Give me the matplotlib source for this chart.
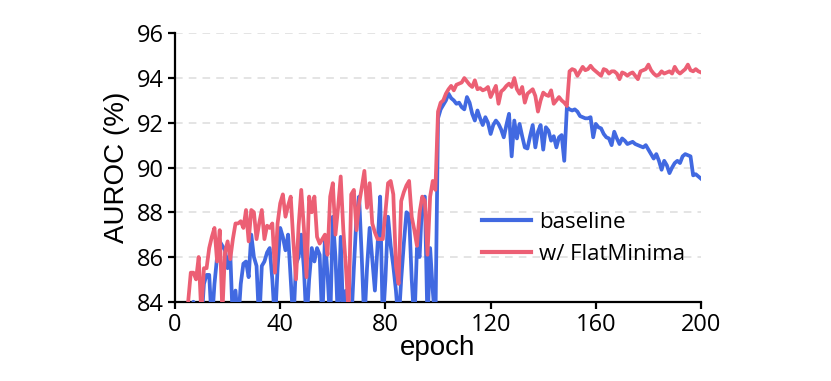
"""
AUROC vs epoch, baseline vs flat minima
"""

import numpy as np
import matplotlib
matplotlib.use('Agg')
import matplotlib.pyplot as plt


# epochs 5..200
epochs = np.arange(5, 201)

# baseline AUROC (%), values under 84 are cut off by the axis
baseline = [
    83.0, 83.0, 84.0, 83.0, 83.0, 83.0, 84.8, 85.2, 85.2, 83.0,   # 5-14
    84.8, 86.0, 86.7, 86.5, 86.3, 85.5, 86.2, 83.0, 84.5, 83.0,   # 15-24
    84.8, 85.7, 85.8, 85.1, 87.0, 86.0, 85.6, 83.0, 85.6, 85.8,   # 25-34
    86.2, 86.4, 85.0, 83.0, 85.5, 87.3, 86.9, 86.3, 87.0, 85.0,   # 35-44
    83.0, 85.7, 86.0, 87.0, 85.5, 83.0, 85.0, 86.4, 85.8, 86.4,   # 45-54
    86.1, 83.0, 86.9, 85.2, 83.0, 87.8, 86.0, 83.0, 86.9, 83.0,   # 55-64
    84.5, 83.0, 83.0, 85.5, 87.8, 88.7, 86.0, 83.0, 85.5, 87.3,   # 65-74
    85.9, 84.5, 86.5, 88.7, 83.0, 85.0, 87.8, 86.5, 85.6, 84.5,   # 75-84
    83.0, 85.0, 86.6, 88.0, 87.9, 85.0, 83.0, 86.4, 86.0, 88.6,   # 85-94
    88.7, 83.0, 86.4, 84.5, 83.0,                                 # 95-99
    92.2, 92.6, 92.8, 93.0, 93.3, 93.1, 93.0, 92.85, 92.9, 92.7,  # 100-109
    92.6, 93.15, 92.9, 92.4, 92.1, 92.55, 92.2, 91.9, 92.25, 92.0,  # 110-119
    91.5, 91.9, 92.1, 91.95, 91.7, 91.35, 91.9, 92.4, 90.5, 92.1,   # 120-129
    91.3, 91.95, 91.4, 90.9, 90.85, 91.4, 91.9, 90.9, 91.6, 91.9,   # 130-139
    90.8, 91.8, 91.65, 91.2, 91.4, 90.9, 91.35, 91.45, 90.3, 92.7,  # 140-149
    92.6, 92.55, 92.6, 92.5, 92.3, 92.25, 92.2, 92.2, 92.25, 91.35, # 150-159
    91.95, 91.8, 91.75, 91.5, 91.35, 91.3, 91.0, 91.6, 91.3, 91.05, # 160-169
    91.3, 91.2, 91.05, 91.1, 91.15, 91.05, 91.0, 90.95, 90.9, 91.0, # 170-179
    90.8, 90.6, 90.4, 90.6, 90.3, 89.9, 90.3, 90.1, 89.75, 90.0,    # 180-189
    90.2, 90.3, 90.2, 90.5, 90.6, 90.55, 90.5, 89.65, 89.7, 89.6,   # 190-199
    89.5,                                                           # 200
]

# w/ FlatMinima AUROC (%)
flatminima = [
    84.0, 85.3, 85.3, 85.0, 86.0, 83.5, 85.5, 85.5, 86.4, 86.9,   # 5-14
    87.3, 85.8, 87.2, 83.5, 86.2, 86.7, 85.9, 86.8, 87.5, 87.5,   # 15-24
    87.6, 87.3, 88.1, 86.7, 88.1, 88.0, 86.8, 87.5, 88.1, 86.8,   # 25-34
    87.4, 87.3, 87.5, 85.3, 87.5, 88.4, 88.8, 87.8, 88.3, 88.7,   # 35-44
    86.7, 85.0, 87.4, 89.0, 87.3, 85.1, 88.7, 88.0, 88.7, 86.9,   # 45-54
    86.6, 86.8, 87.0, 86.1, 88.7, 89.3, 87.0, 88.2, 89.6, 87.2,   # 55-64
    85.5, 83.5, 88.8, 89.0, 87.2, 88.4, 89.1, 89.85, 88.2, 89.3,  # 65-74
    87.5, 87.1, 86.8, 86.8, 86.8, 88.0, 89.3, 89.4, 88.8, 85.6,   # 75-84
    84.8, 88.5, 88.9, 89.2, 89.4, 87.8, 87.2, 86.5, 88.0, 88.7,   # 85-94
    88.5, 86.1, 88.7, 89.4, 89.0,                                 # 95-99
    92.5, 92.9, 93.0, 93.3, 93.5, 93.65, 93.45, 93.7, 93.75, 93.8,  # 100-109
    94.0, 93.85, 93.7, 93.6, 93.9, 93.5, 93.55, 93.45, 93.5, 93.6,  # 110-119
    93.15, 93.4, 93.65, 92.85, 93.4, 93.5, 93.65, 93.75, 93.6, 94.0, # 120-129
    93.5, 93.3, 93.6, 92.9, 93.3, 93.4, 93.5, 93.2, 92.5, 93.0,     # 130-139
    93.35, 93.25, 93.2, 93.45, 92.85, 93.0, 93.15, 93.0, 92.9, 92.75, # 140-149
    94.3, 94.4, 94.35, 94.1, 94.3, 94.5, 94.35, 94.4, 94.55, 94.4,  # 150-159
    94.3, 94.2, 94.1, 94.4, 94.35, 94.2, 94.3, 94.3, 94.2, 93.95,   # 160-169
    94.25, 94.2, 94.1, 94.2, 94.25, 94.1, 93.95, 94.3, 94.35, 94.4, # 170-179
    94.6, 94.35, 94.2, 94.1, 94.15, 94.3, 94.2, 94.25, 94.3, 94.2,  # 180-189
    94.5, 94.3, 94.2, 94.3, 94.4, 94.6, 94.35, 94.3, 94.4, 94.3,    # 190-199
    94.25,                                                          # 200
]

xticks = [0, 40, 80, 120, 160, 200]
yticks = [84, 86, 88, 90, 92, 94, 96]

tick_font = ['Open Sans', 'DejaVu Sans']
label_font = ['Liberation Sans', 'DejaVu Sans']

fig = plt.figure(figsize=(8.31, 3.81), dpi=100)
ax = fig.add_axes([0.2106, 0.208, 0.633, 0.7046])

ax.plot(epochs, baseline, color='#4169e1', lw=2.7, label='baseline', zorder=3)
ax.plot(epochs, flatminima, color='#ec5f74', lw=2.7, label='w/ FlatMinima', zorder=3)

ax.set_xlim(0, 200)
ax.set_ylim(84, 96)
ax.set_xticks(xticks)
ax.set_yticks(yticks)
for y in yticks[1:]:
    ax.axhline(y, color='#dcdcdc', lw=1.1, ls=(0, (5, 4)), zorder=1)

for s in ['top', 'right']:
    ax.spines[s].set_visible(False)
for s in ['left', 'bottom']:
    ax.spines[s].set_linewidth(1.6)
ax.tick_params(direction='out', length=5, width=1.6, labelsize=17, pad=3)
for lab in ax.get_xticklabels() + ax.get_yticklabels():
    lab.set_family(tick_font)

ax.set_xlabel('epoch', fontsize=20, family=label_font, labelpad=-1)
ax.set_ylabel('AUROC (%)', fontsize=20, family=label_font, labelpad=5)

leg = ax.legend(loc='upper left', bbox_to_anchor=(0.545, 0.41), frameon=False,
                prop={'family': tick_font, 'size': 16},
                handlelength=2.2, handletextpad=0.4, labelspacing=0.5)
for h in leg.get_lines():
    h.set_linewidth(3)

plt.savefig('out.png', dpi=100)
